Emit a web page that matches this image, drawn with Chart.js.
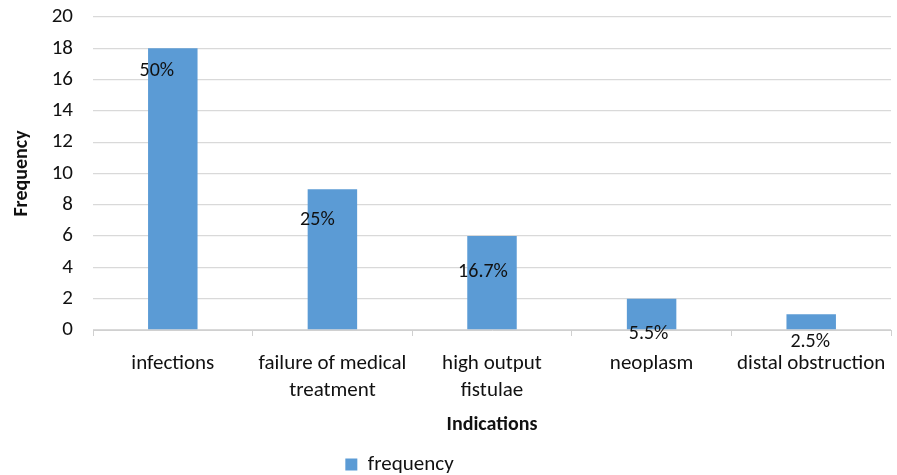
<!DOCTYPE html>
<html>
<head>
<meta charset="utf-8">
<script src="https://cdn.jsdelivr.net/npm/chart.js@4/dist/chart.umd.min.js"></script>
<style>
    html, body { margin: 0; padding: 0; background: #fff; }
    #wrap { width: 897px; height: 475px; }
</style>
</head>
<body>
<div id="wrap"><canvas id="chart"></canvas></div>
<script>
const categories = [
    ['infections'],
    ['failure of medical', 'treatment'],
    ['high output', 'fistulae'],
    ['neoplasm'],
    ['distal obstruction']
];
const frequency = [18, 9, 6, 2, 1];
const percentLabels = ['50%', '25%', '16.7%', '5.5%', '2.5%'];
const yTicks = [0, 2, 4, 6, 8, 10, 12, 14, 16, 18, 20];

const FONT = 'Carlito, Calibri, Lato, sans-serif';
const BAR = '#5b9bd5';

// labels were hand-placed in the original, so nudge each one a little
const labelDx = [-16, -15, -9, -3, -1];
const labelDy = [23, 31, 36, 35, 28];

const percentPlugin = {
    id: 'percentLabels',
    afterDatasetsDraw(chart) {
        const ctx = chart.ctx;
        const meta = chart.getDatasetMeta(0);
        ctx.save();
        ctx.font = '20px ' + FONT;
        ctx.fillStyle = '#111';
        ctx.textAlign = 'center';
        ctx.textBaseline = 'middle';
        meta.data.forEach((bar, i) => {
            ctx.fillText(percentLabels[i], bar.x + labelDx[i], bar.y + labelDy[i]);
        });
        ctx.restore();
    }
};

// the legend sits a bit left of centre in the original
const legendShift = {
    id: 'legendShift',
    afterLayout(chart) {
        chart.legend.left -= 51;
        chart.legend.right -= 51;
    }
};

const ctx = document.getElementById('chart').getContext('2d');

new Chart(ctx, {
    type: 'bar',
    data: {
        labels: categories,
        datasets: [
            {
                label: 'frequency',
                data: frequency,
                backgroundColor: BAR,
                borderWidth: 0,
                categoryPercentage: 1,
                barPercentage: 0.31
            }
        ]
    },
    options: {
        responsive: true,
        maintainAspectRatio: false,
        animation: false,
        layout: { padding: { top: 17, right: 6, left: 10, bottom: -10 } },
        plugins: {
            tooltip: { enabled: false },
            legend: {
                position: 'bottom',
                labels: {
                    font: { family: FONT, size: 21 },
                    color: '#111',
                    boxWidth: 12,
                    boxHeight: 12,
                    padding: 6
                }
            }
        },
        scales: {
            x: {
                offset: true,
                grid: {
                    offset: true,
                    drawOnChartArea: false,
                    drawTicks: true,
                    tickLength: 6,
                    color: '#d0d0d0'
                },
                border: { color: '#d0d0d0' },
                ticks: {
                    font: { family: FONT, size: 21, lineHeight: 1.3 },
                    color: '#111',
                    padding: 14,
                    maxRotation: 0,
                    autoSkip: false
                },
                title: {
                    display: true,
                    text: 'Indications',
                    font: { family: FONT, size: 20, weight: 'bold' },
                    color: '#111',
                    padding: { top: 10, bottom: 11 }
                },
                afterFit(scale) {
                    scale.height = 118;
                    scale.paddingLeft = 0;
                    scale.paddingRight = 0;
                }
            },
            y: {
                min: 0,
                max: 20,
                afterBuildTicks(scale) { scale.ticks = yTicks.map(v => ({ value: v })); },
                grid: { color: '#d9d9d9', drawTicks: false, lineWidth: 1.3 },
                border: { display: false },
                ticks: {
                    font: { family: FONT, size: 21 },
                    color: '#111',
                    padding: 20
                },
                title: {
                    display: true,
                    text: 'Frequency',
                    font: { family: FONT, size: 20, weight: 'bold' },
                    color: '#111',
                    padding: { top: 0, bottom: 6 }
                },
                afterFit(scale) {
                    scale.width = 83;
                    scale.paddingTop = 0;
                    scale.paddingBottom = 0;
                }
            }
        }
    },
    plugins: [percentPlugin, legendShift]
});
</script>
</body>
</html>
